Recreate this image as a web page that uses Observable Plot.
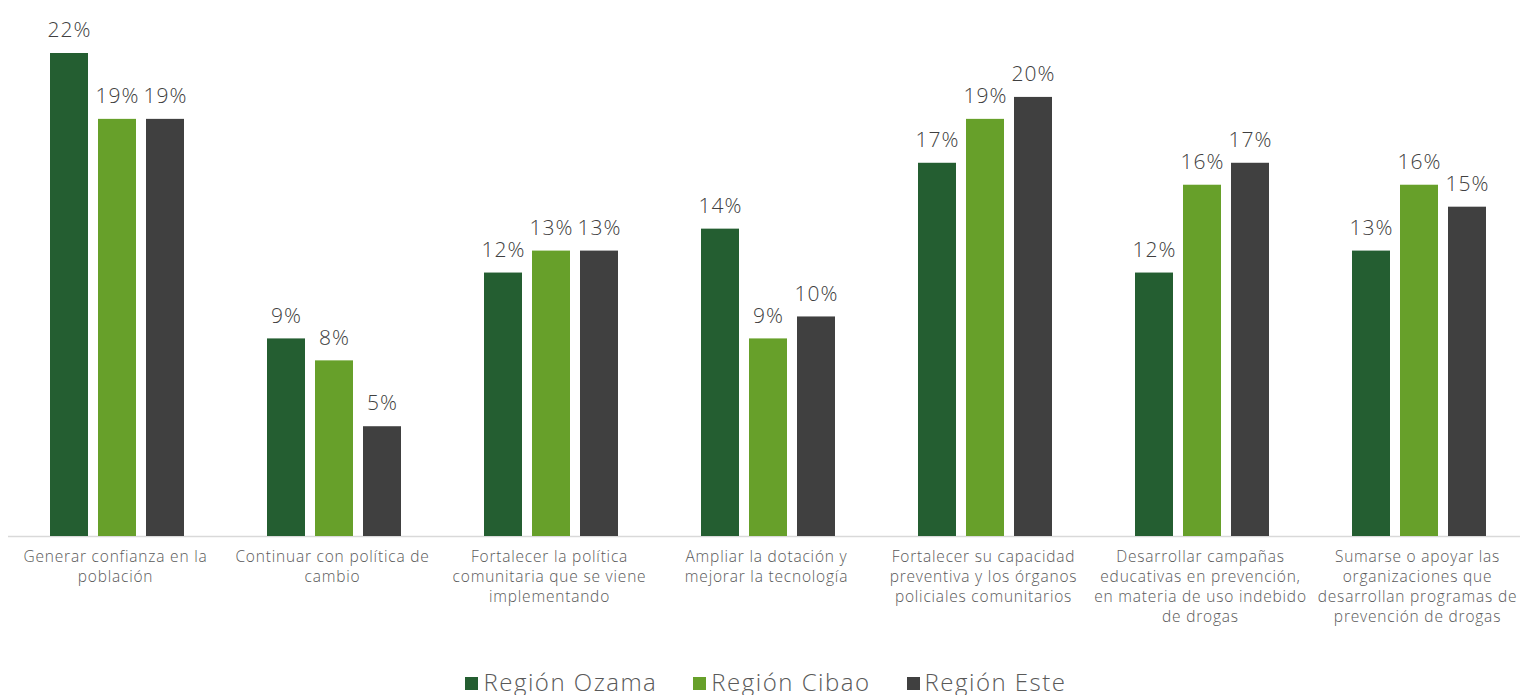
<!DOCTYPE html>
<html><head><meta charset="utf-8">
<script src="https://cdn.jsdelivr.net/npm/d3@7"></script>
<script src="https://cdn.jsdelivr.net/npm/@observablehq/plot@0.6"></script>
<style>
body{margin:0;background:#fff;font-family:"Open Sans",sans-serif;}
#chart text{letter-spacing:1px}
#chart g[aria-label="x-axis tick label"] text{letter-spacing:0.8px}
#legend{display:flex;justify-content:center;gap:36px;font-size:24px;font-weight:300;letter-spacing:1.5px;color:#595959;height:48px;align-items:flex-end;padding-left:12px}
#legend span.sw{display:inline-block;width:13px;height:13px;margin-right:5px;vertical-align:middle;position:relative;top:-1px}
</style></head><body>
<div id="chart"></div>
<div id="legend"></div>
<script>
const categories = [
  "Generar confianza en la\npoblación",
  "Continuar con política de\ncambio",
  "Fortalecer la política\ncomunitaria que se viene\nimplementando",
  "Ampliar la dotación y\nmejorar la tecnología",
  "Fortalecer su capacidad\npreventiva y los órganos\npoliciales comunitarios",
  "Desarrollar campañas\neducativas en prevención,\nen materia de uso indebido\nde drogas",
  "Sumarse o apoyar las\norganizaciones que\ndesarrollan programas de\nprevención de drogas"
];
const seriesNames = ["Región Ozama", "Región Cibao", "Región Este"];
const ozama = [22, 9, 12, 14, 17, 12, 13];
const cibao = [19, 8, 13, 9, 19, 16, 16];
const este  = [19, 5, 13, 10, 20, 17, 15];
const colors = ["#245E31", "#67A02A", "#404040"];

const seriesValues = [ozama, cibao, este];
const data = [];
seriesValues.forEach((vals, s) => vals.forEach((v, i) => data.push({cat: categories[i], series: seriesNames[s], s, value: v})));

const bandW = 134, barW = 38, gap = 10;
const marks = [Plot.ruleY([0], {stroke: "#d9d9d9", strokeWidth: 1.5})];
seriesNames.forEach((name, s) => {
  const sub = data.filter(d => d.s === s);
  const left = s * (barW + gap);
  marks.push(Plot.barY(sub, {x: "cat", y: "value", fill: colors[s], insetLeft: left, insetRight: bandW - left - barW}));
  marks.push(Plot.text(sub, {x: "cat", y: "value", text: d => d.value + "%", dx: left + barW / 2 - bandW / 2, dy: -23, fontSize: 21, fontWeight: 300, fill: "#404040", lineAnchor: "middle"}));
});

const chart = Plot.plot({
  width: 1520,
  height: 650,
  marginTop: 53,
  marginBottom: 114,
  marginLeft: 8,
  marginRight: 0,
  style: {fontFamily: "'Open Sans', sans-serif", background: "#fff"},
  x: {domain: categories, range: [8.5, 1527.5], paddingInner: 83 / 217, paddingOuter: 83 / 434, axis: null},
  y: {domain: [0, 22], axis: null},
  marks: [
    ...marks,
    Plot.axisX({tickSize: 0, tickPadding: 11, fontSize: 15.5, fontWeight: 300, lineHeight: 1.3, color: "#595959", lineAnchor: "top", label: null, dx: -2})
  ]
});
document.getElementById("chart").appendChild(chart);

const legend = document.getElementById("legend");
seriesNames.forEach((n, i) => {
  const d = document.createElement("div");
  d.innerHTML = `<span class="sw" style="background:${colors[i]}"></span>${n}`;
  legend.appendChild(d);
});
</script>
</body></html>
